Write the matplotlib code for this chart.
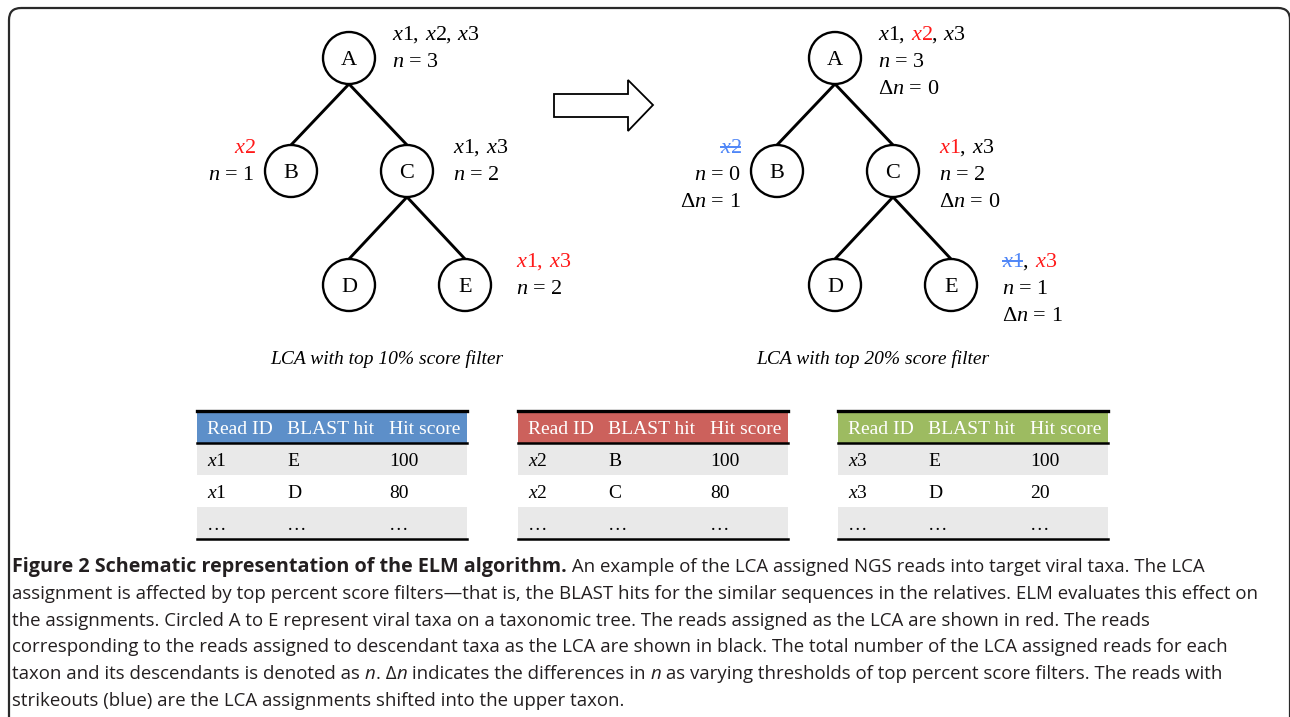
import matplotlib
matplotlib.use('agg')
import matplotlib.pyplot as plt
from matplotlib.patches import Circle, Polygon, Rectangle, FancyBboxPatch

plt.rcParams['mathtext.fontset'] = 'custom'
plt.rcParams['mathtext.rm'] = 'Liberation Serif'
plt.rcParams['mathtext.it'] = 'Liberation Serif:italic'

# tree structure
nodes = ['A', 'B', 'C', 'D', 'E']
edges = [('A', 'B'), ('A', 'C'), ('C', 'D'), ('C', 'E')]

# reads per node: (read, state) state: lca = red, desc = black, shift = blue strikeout
left_reads = {
    'A': [('x1', 'desc'), ('x2', 'desc'), ('x3', 'desc')],
    'B': [('x2', 'lca')],
    'C': [('x1', 'desc'), ('x3', 'desc')],
    'E': [('x1', 'lca'), ('x3', 'lca')],
}
left_n = {'A': 3, 'B': 1, 'C': 2, 'E': 2}

right_reads = {
    'A': [('x1', 'desc'), ('x2', 'lca'), ('x3', 'desc')],
    'B': [('x2', 'shift')],
    'C': [('x1', 'lca'), ('x3', 'desc')],
    'E': [('x1', 'shift'), ('x3', 'lca')],
}
right_n = {'A': 3, 'B': 0, 'C': 2, 'E': 1}
right_dn = {'A': 0, 'B': 1, 'C': 0, 'E': 1}

tree_titles = ['LCA with top 10% score filter', 'LCA with top 20% score filter']

table_cols = ['Read ID', 'BLAST hit', 'Hit score']
table_x1 = [['x1', 'E', '100'], ['x1', 'D', '80'], ['…', '…', '…']]
table_x2 = [['x2', 'B', '100'], ['x2', 'C', '80'], ['…', '…', '…']]
table_x3 = [['x3', 'E', '100'], ['x3', 'D', '20'], ['…', '…', '…']]
header_colors = ['#5d8fc9', '#cc615c', '#9dbb61']

caption_lines = [
    [('Figure 2 Schematic representation of the ELM algorithm.', 'bold'),
     (' An example of the LCA assigned NGS reads into target viral taxa. The LCA', 'normal')],
    [('assignment is affected by top percent score filters\u2014that is, the BLAST hits for the similar '
      'sequences in the relatives. ELM evaluates this effect on', 'normal')],
    [('the assignments. Circled A to E represent viral taxa on a taxonomic tree. The reads assigned as '
      'the LCA are shown in red. The reads', 'normal')],
    [('corresponding to the reads assigned to descendant taxa as the LCA are shown in black. The total '
      'number of the LCA assigned reads for each', 'normal')],
    [('taxon and its descendants is denoted as ', 'normal'), ('n', 'italic'), ('. \u0394', 'normal'),
     ('n', 'italic'), (' indicates the differences in ', 'normal'), ('n', 'italic'),
     (' as varying thresholds of top percent score filters. The reads with', 'normal')],
    [('strikeouts (blue) are the LCA assignments shifted into the upper taxon.', 'normal')],
]

state_color = {'lca': '#ff1a1a', 'desc': 'black', 'shift': '#4f86f7'}

fig = plt.figure(figsize=(12.9, 7.17), dpi=100)
ax = fig.add_axes([0, 0, 1, 1])
ax.set_xlim(0, 1290)
ax.set_ylim(717, 0)
ax.axis('off')
fig.canvas.draw()
renderer = fig.canvas.get_renderer()


def width_of(s, **kw):
    t = ax.text(0, 0, '|' + s + '|', **kw)
    w = t.get_window_extent(renderer).width
    t.remove()
    t = ax.text(0, 0, '||', **kw)
    w -= t.get_window_extent(renderer).width
    t.remove()
    return w


def draw_runs(x, y, parts, ha='left', strike_dy=6.5):
    widths = [width_of(s, **kw) for s, kw, strike in parts]
    total = sum(widths)
    if ha == 'right':
        x -= total
    elif ha == 'center':
        x -= total / 2
    for (s, kw, strike), w in zip(parts, widths):
        ax.text(x, y, s, ha='left', va='baseline', **kw)
        if strike:
            ax.plot([x, x + w], [y - strike_dy, y - strike_dy], color=kw['color'], lw=1.4,
                    solid_capstyle='butt')
        x += w


serif = dict(family='Liberation Serif', fontsize=16)

# outer rounded frame
ax.add_patch(FancyBboxPatch((9, 8), 1281, 740, boxstyle='round,pad=0,rounding_size=12',
                            fill=False, ec='#2a2a2a', lw=1.6, clip_on=False))


def read_parts(reads):
    parts = []
    for i, (r, st) in enumerate(reads):
        if i > 0:
            sep_col = state_color['lca'] if (reads[i - 1][1] == 'lca' and st == 'lca') else 'black'
            parts.append((', ', dict(color=sep_col, **serif), False))
        parts.append(('$' + r[0] + '$' + r[1:], dict(color=state_color[st], **serif), st == 'shift'))
    return parts


def draw_tree(ox, reads, n, dn, title):
    pos = {'A': (ox, 58), 'B': (ox - 58, 171), 'C': (ox + 58, 171),
           'D': (ox, 285), 'E': (ox + 116, 285)}
    r = 26
    for a, b in edges:
        (x0, y0), (x1, y1) = pos[a], pos[b]
        ax.plot([x0, x1], [y0 + r, y1 - r], color='black', lw=2.1, solid_capstyle='round')
    for nd in nodes:
        ax.add_patch(Circle(pos[nd], r, fc='white', ec='black', lw=1.7, zorder=3))
        ax.text(pos[nd][0], pos[nd][1] + 7, nd, ha='center', va='baseline', zorder=4, **serif)
    label_dx = {'A': 43, 'B': -36, 'C': 46, 'E': 51}
    for nd in reads:
        x = pos[nd][0] + label_dx[nd]
        ha = 'right' if label_dx[nd] < 0 else 'left'
        yb = pos[nd][1] - 18
        draw_runs(x, yb, read_parts(reads[nd]), ha=ha)
        lines = ['$n$ = %d' % n[nd]]
        if dn is not None:
            lines.append('\u0394$n$ = %d' % dn[nd])
        for k, s in enumerate(lines):
            ax.text(x, yb + 27 * (k + 1), s, ha=ha, va='baseline', color='black', **serif)
    ax.text(ox + 38, 364, title, ha='center', va='baseline', style='italic',
            family='Liberation Serif', fontsize=14)


draw_tree(349, left_reads, left_n, None, tree_titles[0])
draw_tree(835, right_reads, right_n, right_dn, tree_titles[1])

# hollow arrow
ax.add_patch(Polygon([(554, 94), (628, 94), (628, 80), (653, 105), (628, 131), (628, 117), (554, 117)],
                     closed=True, fc='white', ec='black', lw=1.3))

# tables
tbl_font = dict(family='Liberation Serif', fontsize=14)
for tx, rows, hc in zip([197, 518, 838], [table_x1, table_x2, table_x3], header_colors):
    w = 270
    ax.add_patch(Rectangle((tx, 411), w, 32, fc=hc, ec='none'))
    for i in range(3):
        if i % 2 == 0:
            ax.add_patch(Rectangle((tx, 443 + 32 * i), w, 32, fc='#e9e9e9', ec='none'))
    ax.plot([tx, tx + w], [411, 411], color='black', lw=2.4)
    ax.plot([tx, tx + w], [443, 443], color='black', lw=1.8)
    ax.plot([tx, tx + w], [539, 539], color='black', lw=1.8)
    col_dx = [10, 90, 192]
    for j, c in enumerate(table_cols):
        ax.text(tx + col_dx[j], 434, c, ha='left', va='baseline', color='white', **tbl_font)
    for i, row in enumerate(rows):
        for j, c in enumerate(row):
            s = '$' + c[0] + '$' + c[1:] if j == 0 and c.startswith('x') else c
            ax.text(tx + col_dx[j], 466 + 32 * i, s, ha='left', va='baseline', color='black', **tbl_font)

# caption
cap_color = '#231f20'
for k, line in enumerate(caption_lines):
    parts = []
    for s, st in line:
        kw = dict(family='Open Sans', fontsize=13.45, color=cap_color)
        if st == 'bold':
            kw['weight'] = 'bold'
            kw['fontsize'] = 14.2
        elif st == 'italic':
            kw['style'] = 'italic'
        parts.append((s, kw, False))
    draw_runs(12, 572 + 26.8 * k, parts)

fig.savefig('out.png', dpi=100)
